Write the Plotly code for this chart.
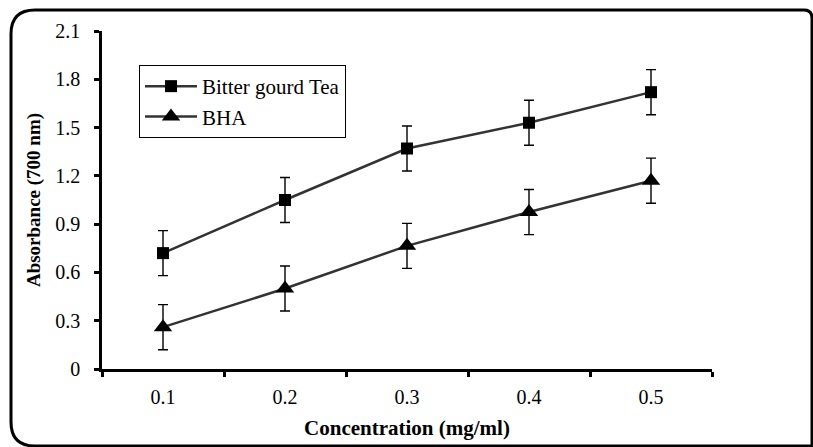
import plotly.graph_objects as go

# ---- data ----
concentrations = ["0.1", "0.2", "0.3", "0.4", "0.5"]
bitter_gourd_tea = [0.72, 1.05, 1.37, 1.53, 1.72]
bitter_gourd_err = [0.14, 0.14, 0.14, 0.14, 0.14]
bha = [0.26, 0.50, 0.765, 0.975, 1.17]
bha_err = [0.14, 0.14, 0.14, 0.14, 0.14]
y_ticks = [0, 0.3, 0.6, 0.9, 1.2, 1.5, 1.8, 2.1]
y_ticklabels = ["0", "0.3", "0.6", "0.9", "1.2", "1.5", "1.8", "2.1"]

W, H = 813, 447
L, R, T, B = 102, 101, 31, 78
FONT = "Liberation Serif"

fig = go.Figure()
fig.add_trace(go.Scatter(
    x=concentrations, y=bitter_gourd_tea, name="Bitter gourd Tea",
    mode="lines+markers",
    line=dict(color="#333333", width=2.5),
    marker=dict(symbol="square", size=12, color="black"),
    error_y=dict(type="data", array=bitter_gourd_err, visible=True,
                 color="black", thickness=1.4, width=5),
))
fig.add_trace(go.Scatter(
    x=concentrations, y=bha, name="BHA",
    mode="lines+markers",
    line=dict(color="#333333", width=2.5),
    marker=dict(symbol="triangle-up", size=16, color="black"),
    error_y=dict(type="data", array=bha_err, visible=True,
                 color="black", thickness=1.4, width=5),
))

plot_w = W - L - R
plot_h = H - T - B


def px(X):
    return (X - L) / plot_w


def py(Y):
    return (H - B - Y) / plot_h


# rounded outer frame
x0, x1, y0, y1, r = 11, 812, 10, 446, 24
path = (
    f"M {px(x0)},{py(y0 + r)} Q {px(x0)},{py(y0)} {px(x0 + r)},{py(y0)} "
    f"L {px(x1 - 8)},{py(y0)} Q {px(x1)},{py(y0)} {px(x1)},{py(y0 + 8)} "
    f"L {px(x1)},{py(y1)} "
    f"L {px(x0 + r)},{py(y1)} Q {px(x0)},{py(y1)} {px(x0)},{py(y1 - r)} Z"
)
fig.add_shape(type="path", path=path, xref="paper", yref="paper",
              line=dict(color="black", width=3), layer="below")

fig.update_layout(
    width=W, height=H,
    margin=dict(l=L, r=R, t=T, b=B, autoexpand=False),
    paper_bgcolor="white", plot_bgcolor="white",
    font=dict(family=FONT, color="black", size=19),
    showlegend=True,
    legend=dict(
        x=px(139), y=py(65), xanchor="left", yanchor="top",
        bordercolor="black", borderwidth=1, bgcolor="white",
        font=dict(family=FONT, size=21, color="black"),
        tracegroupgap=0, itemwidth=52,
    ),
    xaxis=dict(
        type="category", range=[-0.5, 4.5], tickson="boundaries",
        showline=True, linecolor="black", linewidth=2.5,
        ticks="outside", ticklen=5, tickwidth=2.5, tickcolor="black",
        showgrid=False, zeroline=False,
        tickfont=dict(family=FONT, size=20), ticklabelstandoff=8,
        title=dict(text="<b>Concentration (mg/ml)</b>",
                   font=dict(family=FONT, size=21), standoff=14),
    ),
    yaxis=dict(
        range=[0, 2.1], tickvals=y_ticks, ticktext=y_ticklabels,
        showline=True, linecolor="black", linewidth=2.5,
        ticks="outside", ticklen=5, tickwidth=2.5, tickcolor="black",
        showgrid=False, zeroline=False,
        tickfont=dict(family=FONT, size=20), ticklabelstandoff=10,
        title=dict(text="<b>Absorbance (700 nm)</b>",
                   font=dict(family=FONT, size=19), standoff=10),
    ),
)

fig.write_html("out.html")
